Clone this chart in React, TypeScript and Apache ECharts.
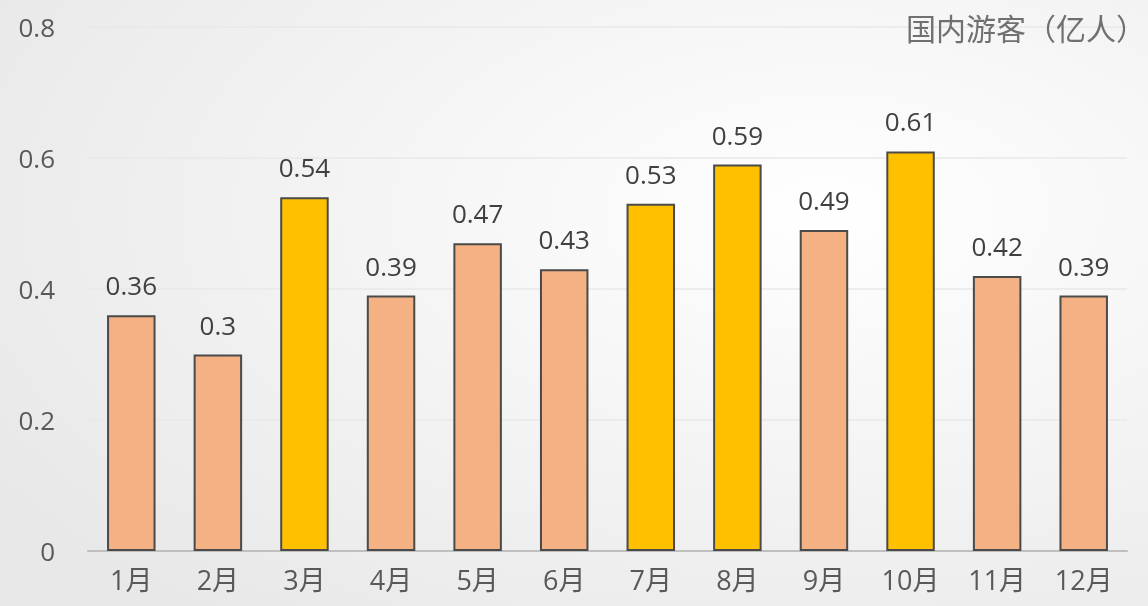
import React, { useEffect, useRef } from "react";
import * as echarts from "echarts";

const months = ["1月", "2月", "3月", "4月", "5月", "6月", "7月", "8月", "9月", "10月", "11月", "12月"];
const visitors = [0.36, 0.3, 0.54, 0.39, 0.47, 0.43, 0.53, 0.59, 0.49, 0.61, 0.42, 0.39];
const highlighted = ["3月", "7月", "8月", "10月"];
const unitTitle = "国内游客（亿人）";

const NUM_FONT = "'Open Sans', 'Noto Sans CJK SC', sans-serif";

export default function App() {
  const ref = useRef<HTMLDivElement>(null);
  useEffect(() => {
    if (!ref.current) return;
    const chart = echarts.init(ref.current, null, { renderer: "svg" });
    chart.setOption({
      animation: false,
      backgroundColor: {
        type: "radial",
        x: 0.72,
        y: 0.35,
        r: 0.85,
        colorStops: [
          { offset: 0, color: "#ffffff" },
          { offset: 1, color: "#e8e8e8" },
        ],
      },
      title: {
        text: unitTitle,
        right: 0,
        top: 10,
        padding: 2,
        textStyle: {
          fontFamily: "'Noto Sans CJK SC', sans-serif",
          fontSize: 30,
          fontWeight: "normal",
          color: "#707070",
        },
      },
      grid: { left: 88, right: 21, top: 27, bottom: 55 },
      xAxis: {
        type: "category",
        data: months,
        axisLine: { lineStyle: { color: "#bfbfbf", width: 2 } },
        axisTick: { show: false },
        axisLabel: {
          fontFamily: NUM_FONT,
          fontSize: 27,
          color: "#595959",
          margin: 15,
        },
      },
      yAxis: {
        type: "value",
        min: 0,
        max: 0.8,
        interval: 0.2,
        axisLine: { show: false },
        axisTick: { show: false },
        splitLine: { lineStyle: { color: "#e9e9e9", width: 1.5 } },
        axisLabel: {
          fontFamily: NUM_FONT,
          fontSize: 26,
          color: "#595959",
          margin: 33,
        },
      },
      series: [
        {
          type: "bar",
          barWidth: "56%",
          data: visitors.map((v, i) => ({
            value: v,
            itemStyle: {
              color: highlighted.includes(months[i]) ? "#FFC000" : "#F4B183",
            },
          })),
          itemStyle: { borderColor: "#4a4a4a", borderWidth: 2 },
          label: {
            show: true,
            position: "top",
            distance: 17,
            fontFamily: NUM_FONT,
            fontSize: 26,
            color: "#404040",
          },
        },
      ],
    });
    return () => chart.dispose();
  }, []);
  return (
    <div
      ref={ref}
      style={{ position: "fixed", left: 0, top: 0, width: 1148, height: 606 }}
    />
  );
}
